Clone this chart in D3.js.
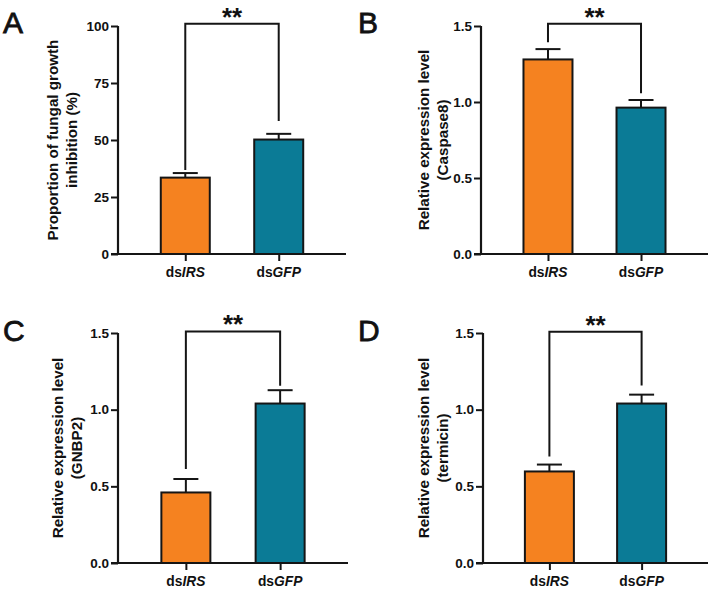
<!DOCTYPE html>
<html><head><meta charset="utf-8">
<script src="https://cdn.jsdelivr.net/npm/d3@7"></script>
<style>body{margin:0;background:#fff}svg{display:block}text{font-family:"Liberation Sans",Arial,sans-serif;fill:#111}</style>
</head><body>
<svg id="c" width="715" height="589"></svg>
<script>
// ---- data ----
const categories = ["IRS", "GFP"];           // displayed as "ds" + italic name
const panelLetters = ["A", "B", "C", "D"];
const yTitles = [
  ["Proportion of fungal growth", "inhibition (%)"],
  ["Relative expression level", "(Caspase8)"],
  ["Relative expression level", "(GNBP2)"],
  ["Relative expression level", "(termicin)"]
];
const yMax = [100, 1.5, 1.5, 1.5];
const yTicks = [[0, 25, 50, 75, 100], [0, 0.5, 1.0, 1.5], [0, 0.5, 1.0, 1.5], [0, 0.5, 1.0, 1.5]];
const meansA = [33.5, 50.2];
const errA = [2.0, 2.5];
const meansB = [1.28, 0.963];
const errB = [0.068, 0.05];
const meansC = [0.46, 1.04];
const errC = [0.088, 0.087];
const meansD = [0.597, 1.04];
const errD = [0.045, 0.058];
const bracketTop = [101, 1.515, 1.51, 1.508];
const bracketLegEnd = [[36.8, 58.3], [1.393, 1.057], [0.613, 1.156], [0.695, 1.158]];
const sigLabels = ["**", "**", "**", "**"];
const barColors = ["#F58220", "#0B7B96"];

const means = [meansA, meansB, meansC, meansD];
const errs = [errA, errB, errC, errD];

// ---- layout ----
const frames = [
  {x0: 118, x1: 346, yTop: 26, yBot: 254, lx: 3, ly: 33, t1: 52, t2: 71},
  {x0: 481, x1: 708, yTop: 26, yBot: 254, lx: 358, ly: 33, t1: 423, t2: 442},
  {x0: 118, x1: 348, yTop: 333, yBot: 563, lx: 3, ly: 341, t1: 57, t2: 76},
  {x0: 483, x1: 708, yTop: 333, yBot: 563, lx: 358, ly: 341, t1: 423, t2: 442}
];

const svg = d3.select("#c");
const ink = "#151515";

frames.forEach((f, i) => {
  const g = svg.append("g");
  const y = d3.scaleLinear().domain([0, yMax[i]]).range([f.yBot, f.yTop]);
  const x = d3.scalePoint().domain(categories).range([f.x0, f.x1]).padding(0.72);
  const bw = 49;
  const fmt = yMax[i] > 10 ? d3.format("d") : d3.format(".1f");

  // bars
  g.selectAll("rect.bar").data(categories).join("rect")
    .attr("x", d => x(d) - bw / 2)
    .attr("y", (d, j) => y(means[i][j]))
    .attr("width", bw)
    .attr("height", (d, j) => y(0) - y(means[i][j]))
    .attr("fill", (d, j) => barColors[j])
    .attr("stroke", ink).attr("stroke-width", 2);

  // error bars (upper only)
  categories.forEach((c, j) => {
    const cx = x(c), top = y(means[i][j] + errs[i][j]);
    g.append("line").attr("x1", cx).attr("x2", cx).attr("y1", y(means[i][j])).attr("y2", top)
      .attr("stroke", ink).attr("stroke-width", 2);
    g.append("line").attr("x1", cx - 12.5).attr("x2", cx + 12.5).attr("y1", top).attr("y2", top)
      .attr("stroke", ink).attr("stroke-width", 2);
  });

  // y axis
  const ya = g.append("g").attr("transform", `translate(${f.x0},0)`)
    .call(d3.axisLeft(y).tickValues(yTicks[i]).tickFormat(fmt).tickSize(7).tickPadding(2));
  ya.select(".domain").attr("stroke", ink).attr("stroke-width", 2.2).attr("d", `M0,${f.yTop}V${f.yBot}`);
  ya.selectAll(".tick line").attr("stroke", ink).attr("stroke-width", 2);
  ya.selectAll(".tick text").attr("font-size", 13.5).attr("font-weight", "bold")
    .attr("font-family", '"Liberation Sans",Arial,sans-serif').attr("fill", "#111");

  // x axis
  const xa = g.append("g").attr("transform", `translate(0,${f.yBot})`)
    .call(d3.axisBottom(x).tickSize(7).tickFormat(""));
  xa.select(".domain").attr("stroke", ink).attr("stroke-width", 2.2).attr("d", `M${f.x0 - 7},0H${f.x1}`);
  xa.selectAll(".tick line").attr("stroke", ink).attr("stroke-width", 2);
  categories.forEach(c => {
    const t = g.append("text").attr("x", x(c)).attr("y", f.yBot + 22.5)
      .attr("text-anchor", "middle").attr("font-size", 13.8).attr("font-weight", "bold");
    t.append("tspan").text("ds");
    t.append("tspan").attr("font-style", "italic").text(c);
  });

  // significance bracket
  const xl = x(categories[0]), xr = x(categories[1]), yt = y(bracketTop[i]);
  g.append("path")
    .attr("d", `M${xl},${y(bracketLegEnd[i][0])}V${yt}H${xr}V${y(bracketLegEnd[i][1])}`)
    .attr("fill", "none").attr("stroke", ink).attr("stroke-width", 2);
  g.append("text").attr("x", (xl + xr) / 2).attr("y", yt + 2).attr("text-anchor", "middle")
    .attr("font-size", 26).attr("font-weight", "bold").text(sigLabels[i]);

  // y title
  const cy = (f.yTop + f.yBot) / 2;
  [f.t1, f.t2].forEach((tx, k) => {
    g.append("text").attr("transform", `translate(${tx},${cy}) rotate(-90)`)
      .attr("text-anchor", "middle").attr("dominant-baseline", "central")
      .attr("font-size", 15.2).attr("font-weight", "bold").text(yTitles[i][k]);
  });

  // panel letter
  g.append("text").attr("x", f.lx).attr("y", f.ly).attr("font-size", 30)
    .attr("stroke", "#111").attr("stroke-width", 0.8).text(panelLetters[i]);
});
</script>
</body></html>
